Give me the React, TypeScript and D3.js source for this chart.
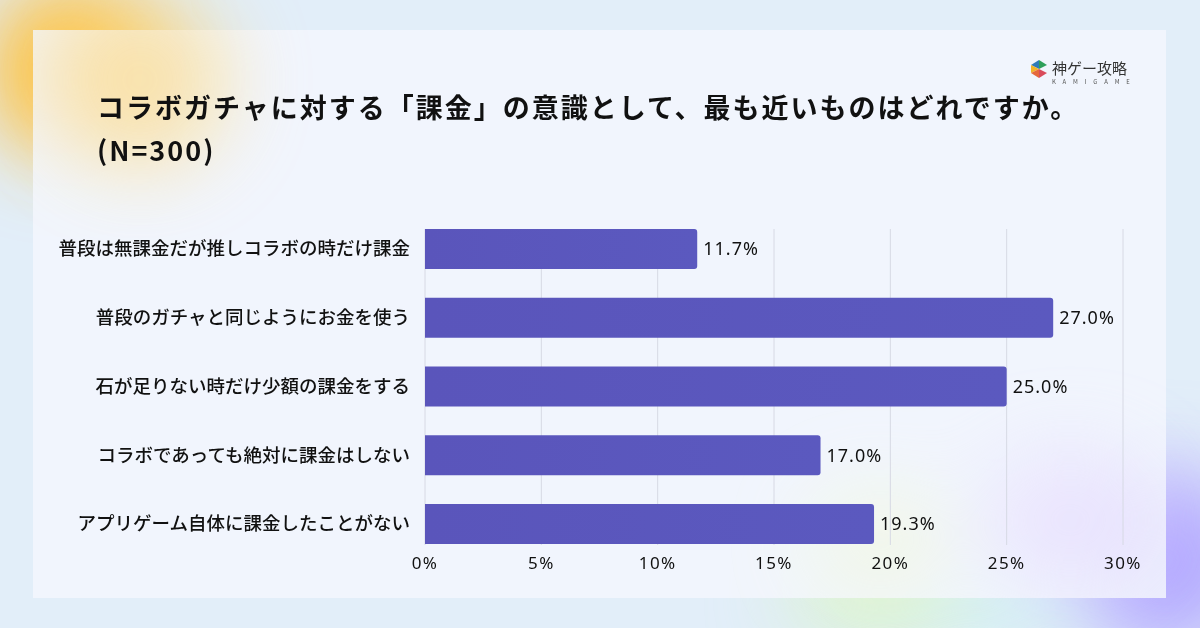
import * as d3 from "d3";

const categories = [
  "普段は無課金だが推しコラボの時だけ課金",
  "普段のガチャと同じようにお金を使う",
  "石が足りない時だけ少額の課金をする",
  "コラボであっても絶対に課金はしない",
  "アプリゲーム自体に課金したことがない",
];
const values = [11.7, 27.0, 25.0, 17.0, 19.3];
const ticks = [0, 5, 10, 15, 20, 25, 30];

const W = 1200;
const H = 628;
const FONT = "'Noto Sans CJK JP', 'Noto Sans', sans-serif";
const NUM_FONT = "'Noto Sans', 'Noto Sans CJK JP', sans-serif";

export default function App() {
  const x = d3.scaleLinear().domain([0, 30]).range([425, 1123]);
  const y = d3.scaleBand().domain(categories).range([214.6, 558.4]).paddingInner(0.418).paddingOuter(0.209);
  const bw = y.bandwidth();
  const r = 3;

  const barPath = (v: number, top: number) => {
    const x0 = x(0);
    const x1 = x(v);
    return `M${x0},${top}H${x1 - r}Q${x1},${top} ${x1},${top + r}V${top + bw - r}Q${x1},${top + bw} ${x1 - r},${top + bw}H${x0}Z`;
  };

  return (
    <svg width={W} height={H} style={{ position: "absolute", left: 0, top: 0, fontFamily: FONT }}>
      <defs>
        <filter id="blur" x="-50%" y="-50%" width="200%" height="200%">
          <feGaussianBlur stdDeviation="40" />
        </filter>
        <linearGradient id="barg" x1="0" x2="1">
          <stop offset="0" stopColor="#5a55bb" />
          <stop offset="1" stopColor="#5b59bf" />
        </linearGradient>
      </defs>
      <rect width={W} height={H} fill="#e2eef9" />
      <g filter="url(#blur)">
        <circle cx={70} cy={70} r={85} fill="#ffbf35" opacity={0.95} />
        <circle cx={1165} cy={560} r={90} fill="#afa3ff" opacity={0.95} />
        <ellipse cx={880} cy={590} rx={90} ry={60} fill="#d8f5c8" opacity={0.8} />
        <ellipse cx={1000} cy={600} rx={70} ry={40} fill="#ccf2f0" opacity={0.8} />
      </g>
      <rect x={33} y={30} width={1133} height={568} fill="#f3f6fd" opacity={0.88} />
      <g filter="url(#blur)" opacity={0.5}>
        <circle cx={140} cy={80} r={90} fill="#ffd36b" />
        <ellipse cx={1070} cy={520} rx={90} ry={70} fill="#e5d6ff" />
        <ellipse cx={880} cy={540} rx={70} ry={50} fill="#f4f8d6" />
      </g>

      {/* logo */}
      <g transform="translate(1030,60)">
        <path d="M9,0 L17,5 L9,9 Z" fill="#2fa05a" />
        <path d="M1,5 L9,0 L9,9 Z" fill="#2f7ab8" />
        <path d="M1,5 L9,9 L1,13 Z" fill="#f0b429" />
        <path d="M9,9 L17,13 L9,18 Z" fill="#d94b5b" />
        <path d="M1,13 L9,9 L9,18 Z" fill="#e5683c" />
        <text x={22} y={14} fontSize={15} fill="#333">神ゲー攻略</text>
        <text x={22} y={24} fontSize={6} fill="#555" letterSpacing={6.8}>KAMIGAME</text>
      </g>

      <text x={97} y={118} fontSize={27} fontWeight={700} fill="#111" letterSpacing={2.0}>
        コラボガチャに対する「課金」の意識として、最も近いものはどれですか。
      </text>
      <text x={97} y={161} fontSize={27} fontWeight={700} fill="#111" letterSpacing={2.0}>(N=300)</text>

      {ticks.map((t) => (
        <line key={t} x1={x(t)} x2={x(t)} y1={229} y2={545} stroke="#d6d9e4" strokeWidth={1} />
      ))}
      {ticks.map((t) => (
        <text key={"t" + t} x={x(t)} y={569} fontSize={17} textAnchor="middle" fill="#111"
          fontFamily={NUM_FONT} letterSpacing={1.4}>
          {t}%
        </text>
      ))}

      {categories.map((c, i) => {
        const top = y(c)!;
        return (
          <g key={c}>
            <path d={barPath(values[i], top)} fill="url(#barg)" />
            <text x={410} y={top + bw / 2} dy="0.35em" fontSize={18.5} fontWeight={500} textAnchor="end" fill="#111">
              {c}
            </text>
            <text x={x(values[i]) + 6} y={top + bw / 2} dy="0.35em" fontSize={18} fill="#111"
              fontFamily={NUM_FONT} letterSpacing={1}>
              {values[i].toFixed(1)}%
            </text>
          </g>
        );
      })}
    </svg>
  );
}
